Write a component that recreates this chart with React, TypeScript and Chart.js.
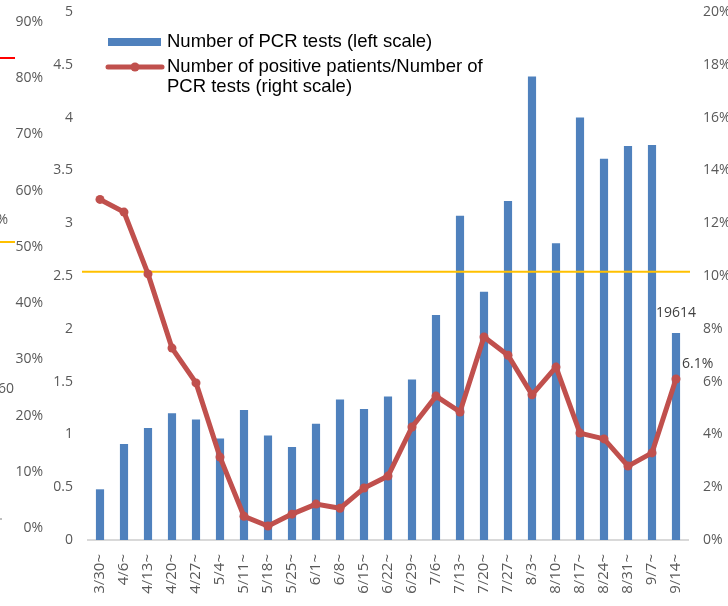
import { useEffect, useRef } from 'react';
import { Chart, registerables } from 'chart.js';

Chart.register(...registerables);

const categories = ['3/30~', '4/6~', '4/13~', '4/20~', '4/27~', '5/4~', '5/11~', '5/18~', '5/25~', '6/1~', '6/8~', '6/15~', '6/22~', '6/29~', '7/6~', '7/13~', '7/20~', '7/27~', '8/3~', '8/10~', '8/17~', '8/24~', '8/31~', '9/7~', '9/14~'];
// Number of PCR tests, in units of 10,000 (left scale)
const pcrTests = [0.48, 0.91, 1.06, 1.2, 1.14, 0.96, 1.23, 0.99, 0.88, 1.1, 1.33, 1.24, 1.36, 1.52, 2.13, 3.07, 2.35, 3.21, 4.39, 2.81, 4.0, 3.61, 3.73, 3.74, 1.9614];
// Positive patients / PCR tests, percent (right scale)
const positiveRate = [12.9, 12.42, 10.08, 7.27, 5.95, 3.14, 0.9, 0.53, 0.98, 1.36, 1.2, 1.97, 2.42, 4.28, 5.45, 4.85, 7.69, 7.0, 5.5, 6.55, 4.05, 3.83, 2.8, 3.3, 6.1];
const leftTicks = [0, 0.5, 1, 1.5, 2, 2.5, 3, 3.5, 4, 4.5, 5];
const rightTicks = [0, 2, 4, 6, 8, 10, 12, 14, 16, 18, 20];
const outerPctTicks = [0, 10, 20, 30, 40, 50, 60, 70, 80, 90];
const referenceLevel = 2.54;
const legendBar = 'Number of PCR tests (left scale)';
const legendLine = ['Number of positive patients/Number of', 'PCR tests (right scale)'];
const fragmentTexts = ['%', '60'];

const BLUE = '#4F81BD';
const RED = '#C0504D';
const YELLOW = '#FFC000';
const TICK = '#595959';
const TICK_FONT = { family: '"Open Sans", sans-serif', size: 14 };

const setTicks = (vals: number[]) => (scale: any) => {
  scale.ticks = vals.map((v) => ({ value: v }));
};
const fitWidth = (w: number) => (s: any) => {
  s.width = w;
  s.paddingTop = 0;
  s.paddingBottom = 0;
};

const overlay = {
  id: 'overlay',
  afterDatasetDraw(chart: any, args: any) {
    if (args.index !== 0) return;
    const { ctx, chartArea, scales } = chart;
    const y = scales.y.getPixelForValue(referenceLevel);
    ctx.save();
    ctx.strokeStyle = YELLOW;
    ctx.lineWidth = 2;
    ctx.beginPath();
    ctx.moveTo(chartArea.left - 6, y);
    ctx.lineTo(chartArea.right + 2, y);
    ctx.stroke();
    ctx.restore();
  },
  afterDraw(chart: any) {
    const { ctx } = chart;
    ctx.save();
    // data labels
    const n = pcrTests.length;
    const bar = chart.getDatasetMeta(0).data[n - 1];
    const pt = chart.getDatasetMeta(1).data[n - 1];
    ctx.font = '14px "Open Sans", sans-serif';
    ctx.fillStyle = '#404040';
    ctx.textBaseline = 'middle';
    ctx.textAlign = 'center';
    ctx.fillText(String(Math.round(pcrTests[n - 1] * 10000)), bar.x, bar.y - 20);
    ctx.textAlign = 'left';
    ctx.fillText(positiveRate[n - 1].toFixed(1) + '%', pt.x + 6, pt.y - 15);

    // legend
    ctx.fillStyle = BLUE;
    ctx.fillRect(108, 38, 53, 8);
    ctx.strokeStyle = RED;
    ctx.lineWidth = 5;
    ctx.lineCap = 'round';
    ctx.beginPath();
    ctx.moveTo(108, 67);
    ctx.lineTo(162, 67);
    ctx.stroke();
    ctx.fillStyle = RED;
    ctx.beginPath();
    ctx.arc(135, 67, 4.5, 0, Math.PI * 2);
    ctx.fill();
    ctx.fillStyle = '#000000';
    ctx.font = '18.5px "Liberation Sans", Arial, sans-serif';
    ctx.textAlign = 'left';
    ctx.fillText(legendBar, 167, 42);
    ctx.fillText(legendLine[0], 167, 67);
    ctx.fillText(legendLine[1], 167, 87);

    // fragments of a neighbouring chart at the left edge
    ctx.lineCap = 'butt';
    ctx.lineWidth = 2;
    ctx.strokeStyle = '#FF0000';
    ctx.beginPath();
    ctx.moveTo(0, 58);
    ctx.lineTo(15, 58);
    ctx.stroke();
    ctx.strokeStyle = YELLOW;
    ctx.beginPath();
    ctx.moveTo(0, 242);
    ctx.lineTo(15, 242);
    ctx.stroke();
    ctx.font = '14px "Open Sans", sans-serif';
    ctx.fillStyle = TICK;
    ctx.textAlign = 'right';
    ctx.fillText(fragmentTexts[0], 8, 220);
    ctx.textAlign = 'left';
    ctx.fillText(fragmentTexts[1], -2, 389);
    ctx.fillStyle = '#BFBFBF';
    ctx.fillRect(0, 518, 2, 2);
    ctx.restore();
  },
};

export default function App() {
  const ref = useRef<HTMLCanvasElement>(null);
  useEffect(() => {
    if (!ref.current) return;
    const chart = new Chart(ref.current, {
      type: 'bar',
      data: {
        labels: categories,
        datasets: [
          {
            type: 'bar',
            label: legendBar,
            data: pcrTests,
            backgroundColor: BLUE,
            borderWidth: 0,
            barPercentage: 0.34,
            categoryPercentage: 1,
            yAxisID: 'y',
            order: 1,
          },
          {
            type: 'line',
            label: legendLine.join(' '),
            data: positiveRate,
            borderColor: RED,
            backgroundColor: RED,
            borderWidth: 5,
            pointRadius: 4.5,
            pointBackgroundColor: RED,
            pointBorderWidth: 0,
            tension: 0,
            yAxisID: 'yRight',
            order: 0,
          },
        ],
      },
      options: {
        responsive: false,
        animation: false,
        devicePixelRatio: 1,
        layout: { padding: { top: 12, left: 0, right: 0, bottom: 0 } },
        plugins: { legend: { display: false }, tooltip: { enabled: false } },
        scales: {
          x: {
            grid: { display: false, drawTicks: false },
            border: { display: true, color: '#D9D9D9', width: 2 },
            ticks: {
              autoSkip: false,
              minRotation: 90,
              maxRotation: 90,
              padding: 14,
              color: TICK,
              font: { family: '"Open Sans", sans-serif', size: 15 },
            },
            afterFit: (s: any) => { s.height = 66; },
          },
          y: {
            position: 'left',
            weight: 0,
            min: 0,
            max: 5,
            grid: { display: false, drawTicks: false },
            border: { display: false },
            ticks: { padding: 15, color: TICK, font: TICK_FONT, callback: (v: any) => String(v) },
            afterBuildTicks: setTicks(leftTicks),
            afterFit: fitWidth(38),
          },
          yPct: {
            position: 'left',
            weight: 10,
            min: -(12 / 5.6222),
            max: 90 + 10 / 5.6222,
            grid: { display: false, drawTicks: false },
            border: { display: false },
            ticks: { padding: 7, color: TICK, font: TICK_FONT, callback: (v: any) => v + '%' },
            afterBuildTicks: setTicks(outerPctTicks),
            afterFit: fitWidth(50),
          },
          yRight: {
            position: 'right',
            min: 0,
            max: 20,
            grid: { display: false, drawTicks: false },
            border: { display: false },
            ticks: { padding: 15, color: TICK, font: TICK_FONT, callback: (v: any) => v + '%' },
            afterBuildTicks: setTicks(rightTicks),
            afterFit: fitWidth(40),
          },
        },
      },
      plugins: [overlay],
    } as any);
    return () => chart.destroy();
  }, []);
  return (
    <div style={{ position: 'absolute', left: 0, top: 0, width: 728, height: 606, background: '#fff' }}>
      <canvas ref={ref} width={728} height={606} style={{ display: 'block' }} />
    </div>
  );
}
